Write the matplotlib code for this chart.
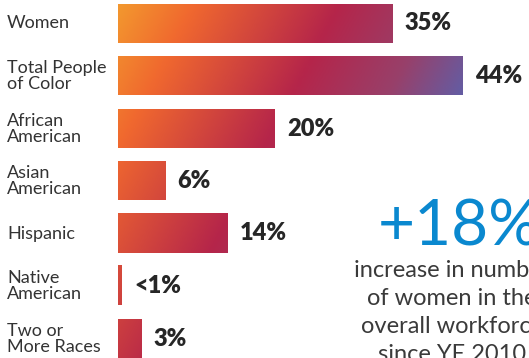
import numpy as np
import matplotlib.pyplot as plt
from matplotlib.colors import LinearSegmentedColormap
from matplotlib.transforms import blended_transform_factory

categories = ["Women", "Total People\nof Color", "African\nAmerican", "Asian\nAmerican",
              "Hispanic", "Native\nAmerican", "Two or\nMore Races"]
values = [35, 44, 20, 6, 14, 0.5, 3]
value_labels = ["35%", "44%", "20%", "6%", "14%", "<1%", "3%"]
big_number = "+18%"
note_lines = ["increase in number", "of women in the", "overall workforce", "since YE 2010"]

plt.rcParams['font.family'] = ['Lato', 'DejaVu Sans']

W, H = 529, 358
fig = plt.figure(figsize=(W / 100, H / 100), dpi=100)
left_px = 118
px_per_pct = 7.84
row_px = 52.5
ax = fig.add_axes([left_px / W, 0, (W - left_px) / W, 1])
ax.axis('off')

# diagonal gradient orange -> crimson -> purple-blue shared by all bars
cmap = LinearSegmentedColormap.from_list(
    'grad', [(0.0, '#F3982E'), (0.17, '#F0682F'), (0.5, '#B5254A'),
             (0.72, '#98406A'), (0.9, '#5F5FA8'), (1.0, '#5A60AC')])
y0 = 23.5 / row_px
k = 0.52 * row_px / px_per_pct
L = 448 / px_per_pct

bar_h = 39 / row_px
for i, v in enumerate(values):
    xs = np.linspace(0, v, 60)
    ys = np.linspace(i - bar_h / 2, i + bar_h / 2, 20)
    X, Y = np.meshgrid(xs, ys)
    t = np.clip((X + k * (Y + y0)) / L, 0, 1)
    ax.imshow(cmap(t), extent=[0, v, i + bar_h / 2, i - bar_h / 2],
              aspect='auto', interpolation='bilinear', origin='upper')
    ax.text(v + 12 / px_per_pct, i, value_labels[i], fontsize=17, fontweight='heavy',
            color='#262626', va='center', ha='left')

trans = blended_transform_factory(fig.transFigure, ax.transData)
for i, c in enumerate(categories):
    ax.text(7 / W, i, c, transform=trans, fontsize=13, color='#333333',
            va='center', ha='left', linespacing=1.0)

ax.set_xlim(0, (W - left_px) / px_per_pct)
ax.set_ylim((H - 23.5) / row_px, -y0)

fig.text(459 / W, 1 - 245 / H, big_number, fontsize=46, color='#0A88CF',
         ha='center', va='baseline', fontweight='normal')
for j, line in enumerate(note_lines):
    fig.text(452 / W, 1 - (277 + 28 * j) / H, line, fontsize=17, color='#3a3a3a',
             ha='center', va='baseline', fontweight='normal')

fig.savefig('out.png', dpi=100)
